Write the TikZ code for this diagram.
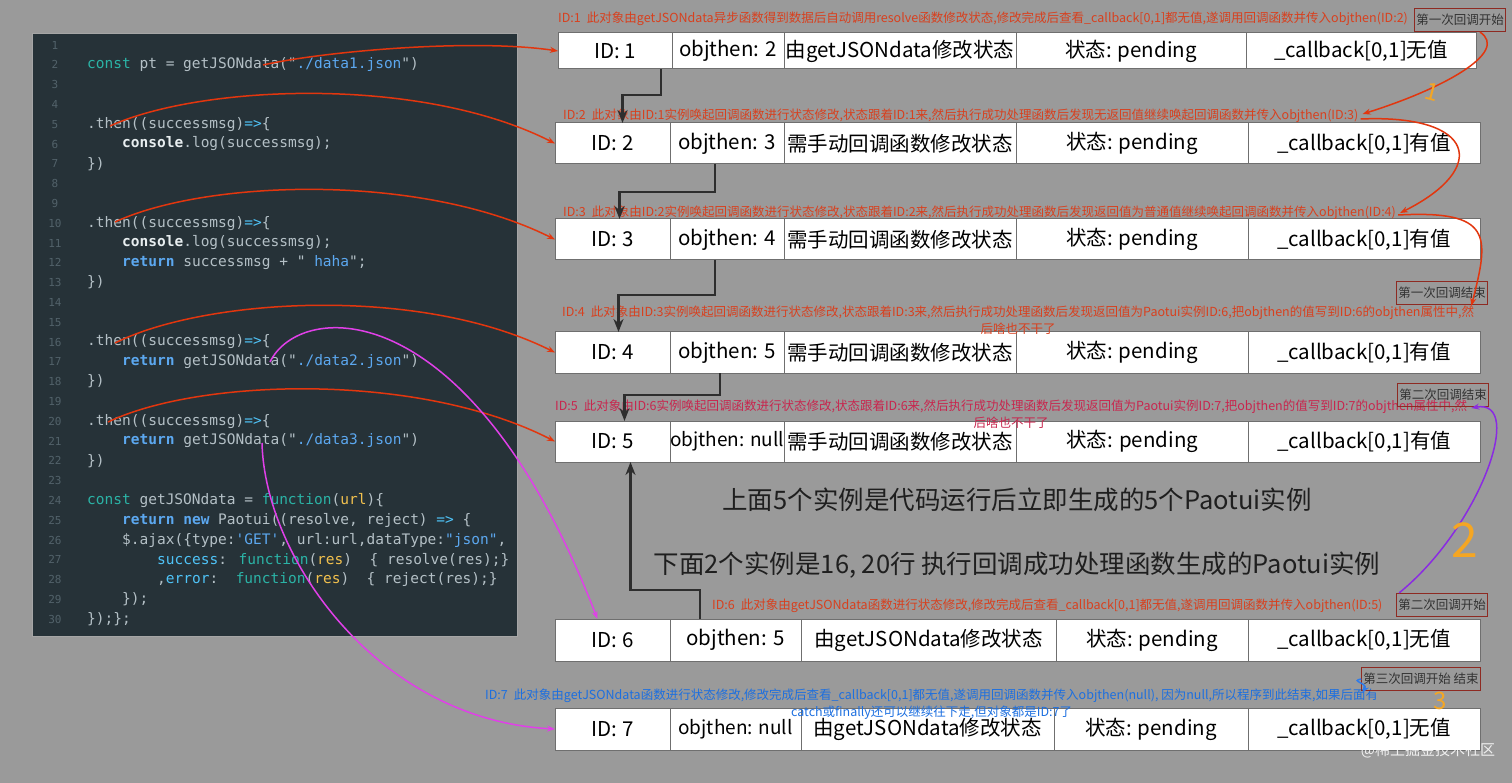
\documentclass[tikz,border=0pt]{standalone}
\usepackage{fontspec}
\usetikzlibrary{positioning,arrows.meta}
\newfontfamily\cjk{Noto Sans CJK SC}
\newfontfamily\codefont{DejaVu Sans Mono}

\definecolor{bg}{HTML}{9A9A9A}
\definecolor{panel}{HTML}{263238}
\definecolor{cgray}{HTML}{B4C0C6}
\definecolor{lnumc}{HTML}{52626A}
\definecolor{ckey}{HTML}{2BB3A6}
\definecolor{cblue}{HTML}{5CA8F0}
\definecolor{ccyan}{HTML}{4FC3F7}
\definecolor{cyel}{HTML}{F2C14E}
\definecolor{cwhite}{HTML}{E8EEF0}
\definecolor{annred}{HTML}{D8401E}
\definecolor{annpink}{HTML}{C8264E}
\definecolor{annblue}{HTML}{1C6FE0}
\definecolor{boxred}{HTML}{8E2A22}
\definecolor{tagtext}{HTML}{333333}
\definecolor{cellline}{HTML}{6F6F6F}
\definecolor{flowc}{HTML}{2E2E2E}
\definecolor{curvered}{HTML}{E2360E}
\definecolor{curvemag}{HTML}{E040E8}
\definecolor{curvepur}{HTML}{8A2BE2}
\definecolor{curveblue}{HTML}{2E7BEA}
\definecolor{handorange}{HTML}{F5A623}

\newcommand{\cK}[1]{\textcolor{ckey}{#1}}
\newcommand{\cB}[1]{\textcolor{cblue}{#1}}
\newcommand{\cC}[1]{\textcolor{ccyan}{#1}}
\newcommand{\cY}[1]{\textcolor{cyel}{#1}}
\newcommand{\cR}[1]{\textcolor{cblue}{\bfseries #1}}
\newcommand{\cW}[1]{{\bfseries\color{cwhite}#1}}

\tikzset{
  cell/.style={draw=cellline, line width=1pt, fill=white, outer sep=0pt, inner sep=0pt, text=black, font=\cjk\fontsize{20.5}{24}\selectfont},
  narrow/.style={font=\cjk\fontsize{19}{24}\selectfont},
  ann/.style={inner sep=0pt, font=\cjk\fontsize{12.5}{16.5}\selectfont},
  tag/.style={draw=boxred, line width=1.2pt, inner sep=1.5pt, minimum height=23pt, text=tagtext, font=\cjk\fontsize{12.5}{14}\selectfont},
  big/.style={inner sep=0pt, text=black!88, font=\cjk\fontsize{25.5}{28}\selectfont},
  code/.style={anchor=west, inner sep=0pt, text=cgray, font=\codefont\fontsize{14.5}{16}\selectfont},
  lnum/.style={inner sep=0pt, text=lnumc, font=\codefont\fontsize{11}{12}\selectfont},
  hand/.style={inner sep=0pt, text=handorange, font=\cjk\fontsize{24}{26}\selectfont},
  call/.style={curvered, line width=1.5pt, -{Stealth[length=8pt,width=6pt]}},
  callmag/.style={curvemag, line width=1.5pt, -{Stealth[length=8pt,width=6pt]}},
  callpur/.style={curvepur, line width=1.5pt, -{Stealth[length=8pt,width=6pt]}},
  callblue/.style={curveblue, line width=1.5pt, -{Stealth[length=8pt,width=6pt]}},
  flowline/.style={flowc, line width=2.5pt, -{Stealth[length=13pt,width=10pt]}}
}

\begin{document}
\begin{tikzpicture}[x=1pt,y=-1pt]
		\useasboundingbox (0,0) rectangle (1512,783);
		\fill[bg] (0,0) rectangle (1512,783);
		% code panel
		\fill[panel] (32,33) rectangle (517,636);
		\draw[gray!70, line width=0.8pt] (32,33) rectangle (517,636);
		\foreach \n in {1,...,30} \node[lnum] (ln\n) at (55,{45+(\n-1)*19.8}) {\n};
		\node[code] (l2) at (87,64.8) {\cK{const} pt = getJSONdata(\textquotedbl\cB{./data1.json}\textquotedbl)};
		\node[code] (l5) at (87,124.2) {.then((successmsg)\cC{=>}\{};
		\node[code] (l6) at (122,144) {\cW{console}.log(successmsg);};
		\node[code] (l7) at (87,163.8) {\})};
		\node[code] (l10) at (87,223.2) {.then((successmsg)\cC{=>}\{};
		\node[code] (l11) at (122,243) {\cW{console}.log(successmsg);};
		\node[code] (l12) at (122,262.8) {\cR{return} successmsg + \textquotedbl\cB{~haha}\textquotedbl;};
		\node[code] (l13) at (87,282.6) {\})};
		\node[code] (l16) at (87,342) {.then((successmsg)\cC{=>}\{};
		\node[code] (l17) at (122,361.8) {\cR{return} getJSONdata(\textquotedbl\cB{./data2.json}\textquotedbl)};
		\node[code] (l18) at (87,381.6) {\})};
		\node[code] (l20) at (87,421.2) {.then((successmsg)\cC{=>}\{};
		\node[code] (l21) at (122,441) {\cR{return} getJSONdata(\textquotedbl\cB{./data3.json}\textquotedbl)};
		\node[code] (l22) at (87,460.8) {\})};
		\node[code] (l24) at (87,500.4) {\cK{const} getJSONdata = \cK{function}(\cY{url})\{};
		\node[code] (l25) at (122,520.2) {\cR{return} \cR{new} Paotui((resolve, reject) \cC{=>} \{};
		\node[code] (l26) at (122,540) {\$.ajax(\{type:\cB{\textquotesingle GET\textquotesingle}, url:url,dataType:\cB{\textquotedbl json\textquotedbl},};
		\node[code] (l27) at (157,559.8) {\cC{success}: \cK{function}(\cY{res})~~\{ resolve(res);\}};
		\node[code] (l28) at (157,579.6) {,\cC{error}:~~\cK{function}(\cY{res})~~\{ reject(res);\}};
		\node[code] (l29) at (122,599.4) {\});};
		\node[code] (l30) at (87,619.2) {\});\};};
		\coordinate (c2) at (263,65);
		\coordinate (c5) at (110,126);
		\coordinate (c10) at (115,222);
		\coordinate (c16) at (115,343);
		\coordinate (c17) at (270,362);
		\coordinate (c20) at (108,422);
		\coordinate (c21) at (262,443);
		% instances
		\node[cell, minimum width=114pt, minimum height=36pt, anchor=west] (id1) at (558,51) {ID: 1};
		\node[cell, minimum width=112pt, minimum height=36pt, right=0pt of id1] (obj1) {objthen: 2};
		\node[cell, minimum width=232pt, minimum height=36pt, right=0pt of obj1] (mod1) {由getJSONdata修改状态};
		\node[cell, minimum width=230pt, minimum height=36pt, right=0pt of mod1] (st1) {状态: pending};
		\node[cell, minimum width=230pt, minimum height=36pt, right=0pt of st1] (cb1) {\_callback[0,1]无值};
		\foreach \i/\y/\nx/\w in {2/143.5/3/cell,3/239.5/4/cell,4/352.5/5/cell,5/441.5/null/narrow}{
			\node[cell, minimum width=115pt, minimum height=41pt, anchor=west] (id\i) at (555,\y) {ID: \i};
			\node[cell, \w, minimum width=114pt, minimum height=41pt, right=0pt of id\i] (obj\i) {objthen: \nx};
			\node[cell, minimum width=232pt, minimum height=41pt, right=0pt of obj\i] (mod\i) {需手动回调函数修改状态};
			\node[cell, minimum width=232pt, minimum height=41pt, right=0pt of mod\i] (st\i) {状态: pending};
			\node[cell, minimum width=232pt, minimum height=41pt, right=0pt of st\i] (cb\i) {\_callback[0,1]有值};
		}
		\node[cell, minimum width=115pt, minimum height=42pt, anchor=west] (id6) at (555,640) {ID: 6};
		\node[cell, minimum width=131pt, minimum height=42pt, right=0pt of id6] (obj6) {objthen: 5};
		\node[cell, minimum width=255pt, minimum height=42pt, right=0pt of obj6] (mod6) {由getJSONdata修改状态};
		\node[cell, minimum width=192pt, minimum height=42pt, right=0pt of mod6] (st6) {状态: pending};
		\node[cell, minimum width=232pt, minimum height=42pt, right=0pt of st6] (cb6) {\_callback[0,1]无值};
		\node[cell, minimum width=115pt, minimum height=42pt, anchor=west] (id7) at (555,729) {ID: 7};
		\node[cell, narrow, minimum width=131pt, minimum height=42pt, right=0pt of id7] (obj7) {objthen: null};
		\node[cell, minimum width=253pt, minimum height=42pt, right=0pt of obj7] (mod7) {由getJSONdata修改状态};
		\node[cell, minimum width=194pt, minimum height=42pt, right=0pt of mod7] (st7) {状态: pending};
		\node[cell, minimum width=232pt, minimum height=42pt, right=0pt of st7] (cb7) {\_callback[0,1]无值};
		% notes
		\node[ann, text=annred, anchor=west] (t1) at (558,19) {ID:1\hspace{6pt}此对象由getJSONdata异步函数得到数据后自动调用resolve函数修改状态,修改完成后查看\_callback[0,1]都无值,遂调用回调函数并传入objthen(ID:2)};
		\node[ann, text=annred, anchor=west] (t2) at (563,116) {ID:2\hspace{6pt}此对象由ID:1实例唤起回调函数进行状态修改,状态跟着ID:1来,然后执行成功处理函数后发现无返回值继续唤起回调函数并传入objthen(ID:3)};
		\node[ann, text=annred, anchor=west] (t3) at (563,213) {ID:3\hspace{6pt}此对象由ID:2实例唤起回调函数进行状态修改,状态跟着ID:2来,然后执行成功处理函数后发现返回值为普通值继续唤起回调函数并传入objthen(ID:4)};
		\node[ann, text=annred, align=center, anchor=north west] (t4) at (562,306) {ID:4\hspace{6pt}此对象由ID:3实例唤起回调函数进行状态修改,状态跟着ID:3来,然后执行成功处理函数后发现返回值为Paotui实例ID:6,把objthen的值写到ID:6的objthen属性中,然\\后啥也不干了};
		\node[ann, text=annpink, align=center, anchor=north west] (t5) at (555,400) {ID:5\hspace{6pt}此对象由ID:6实例唤起回调函数进行状态修改,状态跟着ID:6来,然后执行成功处理函数后发现返回值为Paotui实例ID:7,把objthen的值写到ID:7的objthen属性中,然\\后啥也不干了};
		\node[ann, text=annred, anchor=west] (t6) at (712,606) {ID:6\hspace{6pt}此对象由getJSONdata函数进行状态修改,修改完成后查看\_callback[0,1]都无值,遂调用回调函数并传入objthen(ID:5)};
		\node[ann, text=annblue, align=center, anchor=north west] (t7) at (485,689) {ID:7\hspace{6pt}此对象由getJSONdata函数进行状态修改,修改完成后查看\_callback[0,1]都无值,遂调用回调函数并传入objthen(null), 因为null,所以程序到此结束,如果后面有\\catch或finally还可以继续往下走,但对象都是ID:7了};
		\node[big] (s1) at (1017,500) {上面5个实例是代码运行后立即生成的5个Paotui实例};
		\node[big] (s2) at (1017,565) {下面2个实例是16, 20行 执行回调成功处理函数生成的Paotui实例};
		\node[tag] (b1) at (1460,20) {第一次回调开始};
		\node[tag] (b2) at (1442,293) {第一次回调结束};
		\node[tag] (b3) at (1443,395) {第二次回调结束};
		\node[tag] (b4) at (1442,605) {第二次回调开始};
		\node[tag] (b5) at (1421,679) {第三次回调开始 结束};
		% code -> instance
		\draw[call] (c2) .. controls (320,52) and (470,38) .. (id1.west);
		\draw[call] (c5) .. controls (200,85) and (420,75) .. (id2.west);
		\draw[call] (c10) .. controls (205,180) and (420,172) .. (id3.west);
		\draw[call] (c16) .. controls (205,298) and (420,285) .. (id4.west);
		\draw[call] (c20) .. controls (200,378) and (420,372) .. (id5.west);
		\draw[callmag] (c17) .. controls (300,300) and (470,290) .. ([xshift=-15pt]id6.north);
		\draw[callmag] (c21) .. controls (265,560) and (380,720) .. (id7.west);
		% objthen chain
		\draw[flowline] ([xshift=-11pt]obj1.south west) -- ++(0,26) -| ([xshift=10pt]id2.north);
		\draw[flowline] ([xshift=45pt]obj2.south west) -- ++(0,28) -| ([xshift=7pt]id3.north);
		\draw[flowline] ([xshift=45pt]obj3.south west) -- ++(0,35) -| ([xshift=6pt]id4.north);
		\draw[flowline] ([xshift=50pt]obj4.south west) -- ++(0,22) -| ([xshift=12pt]id5.north);
		\draw[flowline] ([xshift=30pt]obj6.north west) -- ++(0,-29) -| ([xshift=18pt]id5.south);
		% callbacks
		\draw[call] ([xshift=20pt]b1.south) .. controls +(30,20) and +(80,-25) .. ([xshift=4pt,yshift=2pt]t2.east);
		\draw[call] ([xshift=2pt,yshift=-3pt]t2.east) .. controls +(115,-5) and +(90,-45) .. ([xshift=4pt]t3.east);
		\draw[call] ([xshift=2pt,yshift=-2pt]t3.east) .. controls +(95,-5) and +(18,-70) .. ([xshift=-3pt]t4.north east);
		\draw[callpur] ([xshift=3pt]b4.north west) .. controls +(80,-65) and +(55,-10) .. ([xshift=4pt,yshift=-8pt]t5.north east);
		\draw[callblue] (b5.west) .. controls +(-12,2) and +(6,-10) .. ([xshift=-16pt,yshift=-4pt]t7.north east);
		\node[hand, rotate=-15] (d1) at (1432,92) {1};
		\node[hand, font=\cjk\fontsize{48}{50}\selectfont] (d2) at (1465,540) {2};
		\node[hand] (d3) at (1440,701) {3};
		\node[inner sep=0pt, text=white, opacity=0.85, font=\cjk\fontsize{15}{16}\selectfont] (wm) at (1428,750) {@稀土掘金技术社区};
	\end{tikzpicture}
\end{document}
